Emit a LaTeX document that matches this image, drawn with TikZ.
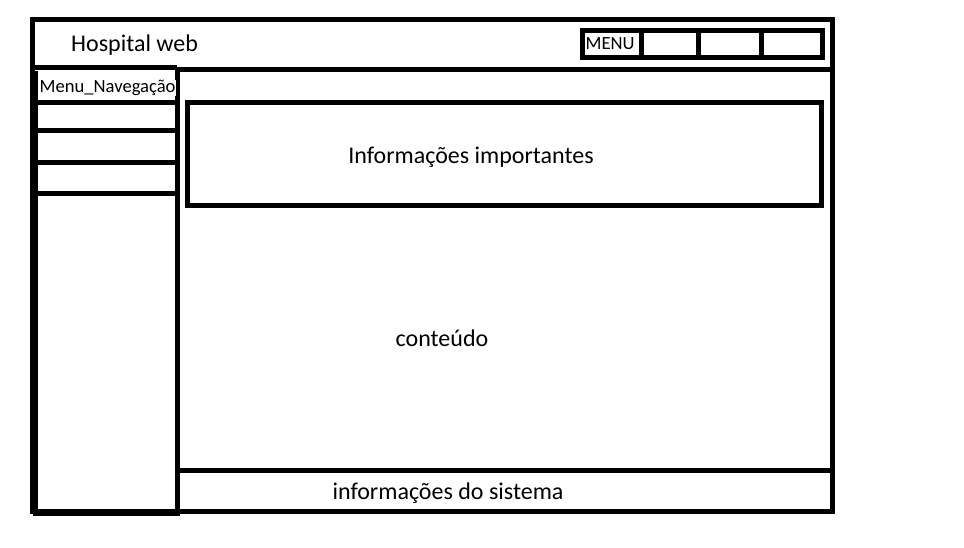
\documentclass[tikz,border=0pt]{standalone}
\usepackage{fontspec}
\setmainfont{Carlito}
\begin{document}
\begin{tikzpicture}[x=1pt,y=-1pt,
  frame/.style={draw=black,line width=5pt,line join=miter},
  lbl/.style={inner sep=0pt,anchor=center,font=\fontsize{24}{28}\selectfont},
  small/.style={inner sep=1pt,fill=white,font=\fontsize{18.6}{22}\selectfont}]
\useasboundingbox[fill=white] (0,0) rectangle (964,548);
% outer frame
\draw[frame] (32,20) rectangle (832,511);
% header bottom line
\draw[frame] (32,68) -- (177,68);
\draw[frame] (177,70) -- (832,70);
% left navigation panel
\draw[frame] (35.5,71) -- (35.5,513) -- (177,513) -- (177,70);
\draw[frame] (35.5,103) -- (177,103);
\draw[frame] (35.5,131) -- (177,131);
\draw[frame] (35.5,163) -- (177,163);
\draw[frame] (35.5,194) -- (177,194);
% top-right menu
\draw[frame] (582,31) rectangle (822,58);
\draw[frame] (641,31) -- (641,58);
\draw[frame] (698,31) -- (698,58);
\draw[frame] (761,31) -- (761,58);
% important information box
\draw[frame] (187,103) rectangle (821,206);
% footer
\draw[frame] (177,470) -- (832,470);
% texts
\node[lbl,anchor=west] (title) at (71,45) {Hospital web};
\node[small,anchor=west,inner sep=0.5pt] (menu) at (585,44) {MENU};
\node[small,anchor=west,inner sep=0.5pt] (nav) at (39,88) {Menu\_Navegação};
\node[lbl] (info) at (471,157) {Informações importantes};
\node[lbl] (cont) at (442,338) {conteúdo};
\node[lbl] (foot) at (448,493) {informações do sistema};
\end{tikzpicture}
\end{document}
